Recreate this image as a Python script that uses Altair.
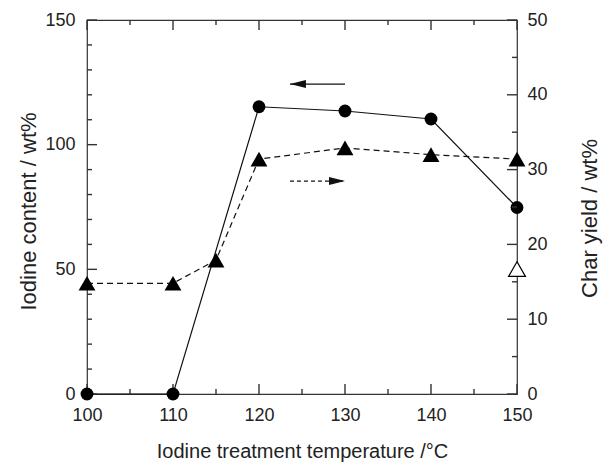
import altair as alt
import pandas as pd

# plot area size in pixels
W, H = 430, 374

# iodine content (left axis, circles, solid line)
temp_iodine = [100, 110, 120, 130, 140, 150]
iodine_content = [0, 0, 115.2, 113.5, 110.3, 74.8]

# char yield (right axis, filled triangles, dashed line)
temp_char = [100, 110, 115, 120, 130, 140, 150]
char_yield = [14.8, 14.8, 17.9, 31.4, 32.9, 32.0, 31.4]

# single open-triangle char yield point
temp_open = [150]
char_yield_open = [16.7]

# axis tick values
x_major = [100, 110, 120, 130, 140, 150]
x_minor = [105, 115, 125, 135, 145]
left_major = [0, 50, 100, 150]
left_minor = [10, 20, 30, 40, 60, 70, 80, 90, 110, 120, 130, 140]
right_major = [0, 10, 20, 30, 40, 50]
right_minor = [5, 15, 25, 35, 45]

# axis-pointer arrows (in temperature / iodine-content units)
arrow_x_start = [123.6, 123.6]
arrow_x_end = [130.0, 130.0]
arrow_y = [124.3, 85.4]

X_MIN, X_MAX = 100.0, 150.0
YL_MAX = 150.0
YR_MAX = 50.0

INK = "#111111"
FRAME = "#333333"
FONT = "Liberation Sans"

# tick lengths in pixels, converted to data units per axis
MAJ, MIN = 10, 5
DX = (X_MAX - X_MIN) / W
DYL = YL_MAX / H
DYR = YR_MAX / H

df_iod = pd.DataFrame({"t": temp_iodine, "v": iodine_content})
df_char = pd.DataFrame({"t": temp_char, "v": char_yield})
df_open = pd.DataFrame({"t": temp_open, "v": char_yield_open})
df_arrow_l = pd.DataFrame({"t": [arrow_x_start[0]], "t2": [arrow_x_end[0]], "v": [arrow_y[0]]})
df_arrow_r = pd.DataFrame({"t": [arrow_x_start[1]], "t2": [arrow_x_end[1]], "v": [arrow_y[1]]})


def seg_rows(t, t2, v, v2):
    return {"t": float(t), "t2": float(t2), "v": float(v), "v2": float(v2)}


# tick segments on the iodine (left) scale: left edge, bottom edge, top edge
rows_l = []
for val in left_major:
    rows_l.append(seg_rows(X_MIN, X_MIN + MAJ * DX, val, val))
for val in left_minor:
    rows_l.append(seg_rows(X_MIN, X_MIN + MIN * DX, val, val))
for val in x_major:
    rows_l.append(seg_rows(val, val, 0, MAJ * DYL))
    rows_l.append(seg_rows(val, val, YL_MAX, YL_MAX - MAJ * DYL))
for val in x_minor:
    rows_l.append(seg_rows(val, val, 0, MIN * DYL))
    rows_l.append(seg_rows(val, val, YL_MAX, YL_MAX - MIN * DYL))
df_ticks_l = pd.DataFrame(rows_l)

# tick segments on the char-yield (right) scale: right edge
rows_r = []
for val in right_major:
    rows_r.append(seg_rows(X_MAX, X_MAX - MAJ * DX, val, val))
for val in right_minor:
    rows_r.append(seg_rows(X_MAX, X_MAX - MIN * DX, val, val))
df_ticks_r = pd.DataFrame(rows_r)

x_scale = alt.Scale(domain=[X_MIN, X_MAX], nice=False, zero=False)
x_axis = alt.Axis(
    values=x_major, format="d", title="Iodine treatment temperature /°C",
    ticks=False, domain=False, grid=False, labelPadding=12, labelFlush=False,
    titleX=W / 2, titleY=63, titleBaseline="alphabetic", titleAlign="center",
)
left_scale = alt.Scale(domain=[0, YL_MAX], nice=False, zero=True)
left_axis = alt.Axis(
    orient="left", values=left_major, format="d", title="Iodine content / wt%",
    ticks=False, domain=False, grid=False, labelPadding=12, labelFlush=False,
    titleAngle=270, titleX=-52, titleY=191, titleBaseline="alphabetic", titleAlign="center",
)
right_scale = alt.Scale(domain=[0, YR_MAX], nice=False, zero=True)
right_axis = alt.Axis(
    orient="right", values=right_major, format="d", title="Char yield / wt%",
    ticks=False, domain=False, grid=False, labelPadding=10, labelFlush=False,
    titleAngle=270, titleX=79, titleY=198, titleBaseline="alphabetic", titleAlign="center",
)


def X(field="t"):
    return alt.X(f"{field}:Q", scale=x_scale, axis=x_axis)


def YL(field="v"):
    return alt.Y(f"{field}:Q", scale=left_scale, axis=left_axis)


def YR(field="v"):
    return alt.Y(f"{field}:Q", scale=right_scale, axis=right_axis)


# --- iodine content group -------------------------------------------------
ticks_l = alt.Chart(df_ticks_l).mark_rule(color=FRAME, strokeWidth=1.4).encode(
    x=X("t"), x2="t2:Q", y=YL("v"), y2="v2:Q"
)
iod_line = alt.Chart(df_iod).mark_line(color=INK, strokeWidth=1.2).encode(x=X(), y=YL())
iod_pts = alt.Chart(df_iod).mark_point(
    shape="circle", filled=True, size=165, color="black", opacity=1
).encode(x=X(), y=YL())

arrow_l_shaft = alt.Chart(df_arrow_l).mark_rule(color=INK, strokeWidth=1.2).encode(
    x=X("t"), x2="t2:Q", y=YL()
)
arrow_l_head = alt.Chart(df_arrow_l).mark_point(
    shape="M0,0L2,-0.5L2,0.5Z", filled=True, size=256, color=INK, opacity=1
).encode(x=X("t"), y=YL())
arrow_r_shaft = alt.Chart(df_arrow_r).mark_rule(
    color=INK, strokeWidth=1.2, strokeDash=[4, 3]
).encode(x=X("t"), x2="t2:Q", y=YL())
arrow_r_head = alt.Chart(df_arrow_r).mark_point(
    shape="M0,0L-2,-0.5L-2,0.5Z", filled=True, size=256, color=INK, opacity=1
).encode(x=X("t2"), y=YL())

left_group = alt.layer(
    iod_line, arrow_l_shaft, arrow_l_head, arrow_r_shaft, arrow_r_head, ticks_l, iod_pts,
)

# --- char yield group -----------------------------------------------------
ticks_r = alt.Chart(df_ticks_r).mark_rule(color=FRAME, strokeWidth=1.4).encode(
    x=X("t"), x2="t2:Q", y=YR("v"), y2="v2:Q"
)
char_line = alt.Chart(df_char).mark_line(
    color=INK, strokeWidth=1.2, strokeDash=[6, 4]
).encode(x=X(), y=YR())
char_pts = alt.Chart(df_char).mark_point(
    shape="triangle-up", filled=True, size=285, color="black", opacity=1
).encode(x=X(), y=YR())
open_pts = alt.Chart(df_open).mark_point(
    shape="triangle-up", filled=False, size=285, color="black", fill="white",
    fillOpacity=1, strokeWidth=1.2, opacity=1
).encode(x=X(), y=YR())

right_group = alt.layer(char_line, ticks_r, char_pts, open_pts)

chart = (
    alt.layer(left_group, right_group)
    .resolve_scale(y="independent")
    .properties(
        width=W, height=H,
        autosize=alt.AutoSizeParams(type="none"),
        padding={"left": 87, "top": 20, "right": 88, "bottom": 72},
        background="white",
    )
    .configure_view(stroke=FRAME, strokeWidth=1.2)
    .configure_axis(
        labelFont=FONT, labelFontSize=18, labelColor="#222222",
        titleFont=FONT, titleFontSize=22, titleColor="#222222", titleFontWeight="normal",
    )
    .configure_axisX(titleFontSize=20)
)

chart.save("out.html", embed_options={"renderer": "svg", "actions": False})
